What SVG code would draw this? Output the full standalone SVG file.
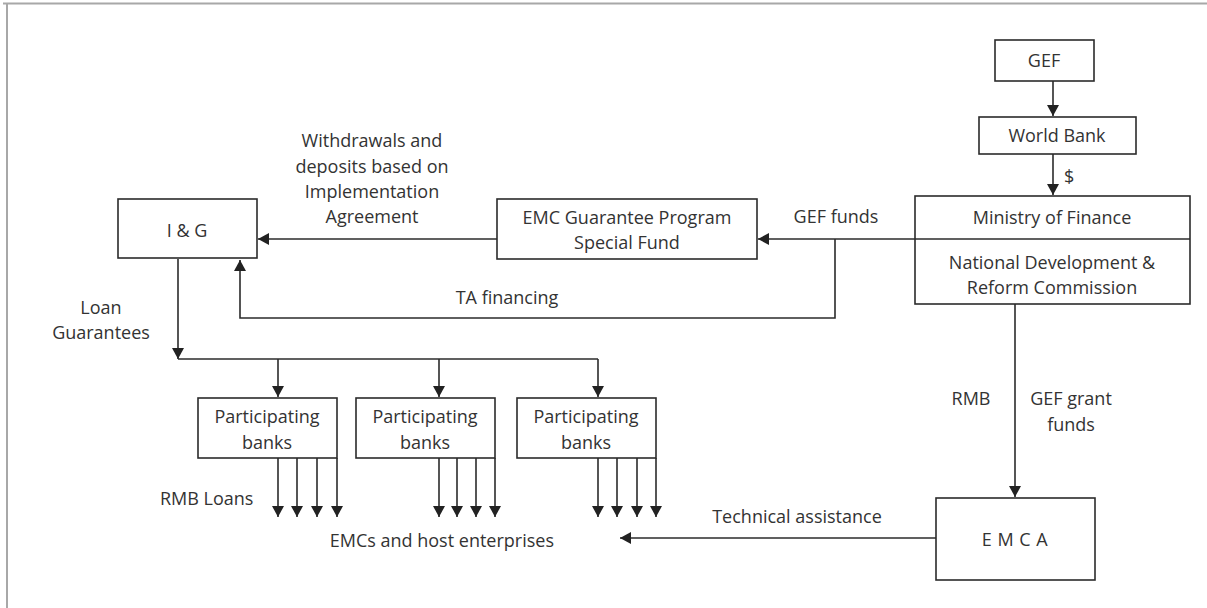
<svg xmlns="http://www.w3.org/2000/svg" width="1207" height="608" viewBox="0 0 1207 608">
<style>
  .box{fill:#fff;stroke:#2b2b2b;stroke-width:1.6}
  .t{font-family:"Open Sans","Liberation Sans",sans-serif;font-size:18px;fill:#333;text-anchor:middle}
  .ln{fill:none;stroke:#2b2b2b;stroke-width:1.6}
  .arr{marker-end:url(#ah)}
</style>
<defs>
  <marker id="ah" markerUnits="userSpaceOnUse" markerWidth="12" markerHeight="12" refX="11" refY="6" orient="auto">
    <path d="M0,0 L11,6 L0,12 z" fill="#222"/>
  </marker>
</defs>
<rect width="1207" height="608" fill="#fff"/>
<g id="frame">
  <line x1="3" y1="3.5" x2="1207" y2="3.5" stroke="#a8a8a8" stroke-width="2"/>
  <line x1="7" y1="3" x2="7" y2="608" stroke="#a8a8a8" stroke-width="2"/>
</g>
<g id="connectors">
  <path class="ln arr" d="M1053,81 V116"/>
  <path class="ln arr" d="M1053,154 V195"/>
  <path class="ln arr" d="M915,239 H758"/>
  <path class="ln arr" d="M497,239 H258"/>
  <path class="ln arr" d="M835,239 V318 H240 V260"/>
  <path class="ln arr" d="M178,259 V359"/>
  <path class="ln" d="M178,359 H598"/>
  <path class="ln arr" d="M278,359 V397"/>
  <path class="ln arr" d="M439,359 V397"/>
  <path class="ln arr" d="M598,359 V397"/>
  <path class="ln arr" d="M278,458 V517"/>
  <path class="ln arr" d="M297,458 V517"/>
  <path class="ln arr" d="M317,458 V517"/>
  <path class="ln arr" d="M337,458 V517"/>
  <path class="ln arr" d="M439,458 V517"/>
  <path class="ln arr" d="M457,458 V517"/>
  <path class="ln arr" d="M476,458 V517"/>
  <path class="ln arr" d="M495,458 V517"/>
  <path class="ln arr" d="M598,458 V517"/>
  <path class="ln arr" d="M617,458 V517"/>
  <path class="ln arr" d="M637,458 V517"/>
  <path class="ln arr" d="M656,458 V517"/>
  <path class="ln arr" d="M1015,304 V497"/>
  <path class="ln arr" d="M936,538 H620"/>
  <text class="t" x="1064" y="183" style="text-anchor:start">$</text>
  <text class="t" x="836" y="223">GEF funds</text>
  <text class="t" x="372" y="147">Withdrawals and</text>
  <text class="t" x="372" y="173">deposits based on</text>
  <text class="t" x="372" y="198">Implementation</text>
  <text class="t" x="372" y="223">Agreement</text>
  <text class="t" x="507" y="304">TA financing</text>
  <text class="t" x="101" y="314">Loan</text>
  <text class="t" x="101" y="339">Guarantees</text>
  <text class="t" x="160" y="505" style="text-anchor:start">RMB Loans</text>
  <text class="t" x="971" y="405">RMB</text>
  <text class="t" x="1071" y="405">GEF grant</text>
  <text class="t" x="1071" y="431">funds</text>
  <text class="t" x="797" y="523">Technical assistance</text>
  <text class="t" x="554" y="547" style="text-anchor:end">EMCs and host enterprises</text>
</g>
<g id="gef">
  <rect class="box" x="995" y="40" width="99" height="41"/>
  <text class="t" x="1044" y="67">GEF</text>
</g>
<g id="worldbank">
  <rect class="box" x="979" y="117" width="157" height="37"/>
  <text class="t" x="1057" y="142">World Bank</text>
</g>
<g id="ministry">
  <rect class="box" x="915" y="196" width="275" height="108"/>
  <line class="ln" x1="915" y1="239" x2="1190" y2="239"/>
  <text class="t" x="1052" y="224">Ministry of Finance</text>
  <text class="t" x="1052" y="269">National Development &amp;</text>
  <text class="t" x="1052" y="294">Reform Commission</text>
</g>
<g id="emcfund">
  <rect class="box" x="497" y="199" width="260" height="60"/>
  <text class="t" x="627" y="224">EMC Guarantee Program</text>
  <text class="t" x="627" y="249">Special Fund</text>
</g>
<g id="ig">
  <rect class="box" x="118" y="199" width="139" height="59"/>
  <text class="t" x="187" y="237">I &amp; G</text>
</g>
<g id="bank1">
  <rect class="box" x="198" y="398" width="139" height="60"/>
  <text class="t" x="267" y="423">Participating</text>
  <text class="t" x="267" y="449">banks</text>
</g>
<g id="bank2">
  <rect class="box" x="356" y="398" width="139" height="60"/>
  <text class="t" x="425" y="423">Participating</text>
  <text class="t" x="425" y="449">banks</text>
</g>
<g id="bank3">
  <rect class="box" x="517" y="398" width="139" height="60"/>
  <text class="t" x="586" y="423">Participating</text>
  <text class="t" x="586" y="449">banks</text>
</g>
<g id="emca">
  <rect class="box" x="936" y="498" width="159" height="82"/>
  <text class="t" x="1015" y="546" style="letter-spacing:0.5px">E M C A</text>
</g>
</svg>
